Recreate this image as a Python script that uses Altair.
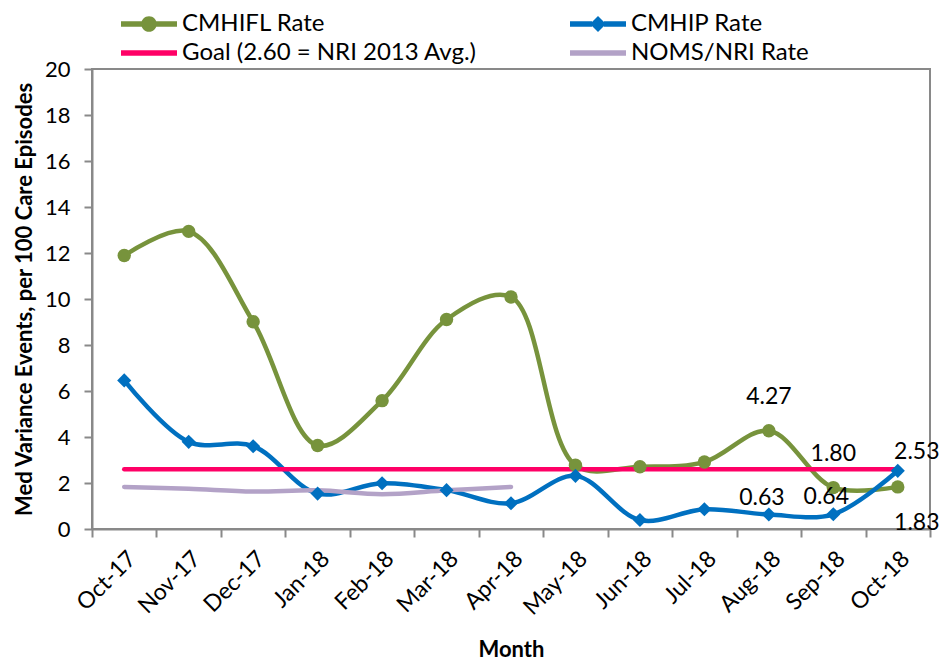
import altair as alt
import pandas as pd
import json

months = ["Oct-17", "Nov-17", "Dec-17", "Jan-18", "Feb-18", "Mar-18", "Apr-18",
          "May-18", "Jun-18", "Jul-18", "Aug-18", "Sep-18", "Oct-18"]
cmhifl = [11.89, 12.94, 9.01, 3.63, 5.58, 9.11, 10.09, 2.77, 2.71, 2.91, 4.27, 1.80, 1.83]
cmhip = [6.46, 3.79, 3.60, 1.54, 1.99, 1.69, 1.12, 2.31, 0.39, 0.86, 0.63, 0.64, 2.53]
goal = [2.60] * 13
noms_months = ["Oct-17", "Nov-17", "Dec-17", "Jan-18", "Feb-18", "Mar-18", "Apr-18"]
noms = [1.83, 1.75, 1.63, 1.68, 1.51, 1.68, 1.83]

series_names = ["CMHIFL Rate", "CMHIP Rate", "Goal (2.60 = NRI 2013 Avg.)", "NOMS/NRI Rate"]
series_colors = ["#77933C", "#0070C0", "#FF0066", "#B3A2C7"]

rows = []
for m, v in zip(months, cmhifl):
    rows.append({"month": m, "series": series_names[0], "value": v})
for m, v in zip(months, cmhip):
    rows.append({"month": m, "series": series_names[1], "value": v})
for m, v in zip(months, goal):
    rows.append({"month": m, "series": series_names[2], "value": v})
for m, v in zip(noms_months, noms):
    rows.append({"month": m, "series": series_names[3], "value": v})
df = pd.DataFrame(rows)

FONT = "Lato"
GRAY = "#898989"

# legend symbol paths: line segment with marker (units of 10 px, symbol size 400)
x0, x1, xm = -1.0, 4.6, 1.8
h = 0.28
rect_full = f"M{x0},-{h}H{x1}V{h}H{x0}Z"
r = 0.78
circ_path = (f"M{x0},-{h}H{xm - r + 0.1:.2f}V{h}H{x0}Z M{xm + r - 0.1:.2f},-{h}H{x1}V{h}H{xm + r - 0.1:.2f}Z "
             f"M{xm - r:.2f},0A{r},{r},0,1,1,{xm + r:.2f},0A{r},{r},0,1,1,{xm - r:.2f},0Z")
d = 0.8
diam_path = (f"M{x0},-{h}H{xm - d + 0.2:.2f}V{h}H{x0}Z M{xm + d - 0.2:.2f},-{h}H{x1}V{h}H{xm + d - 0.2:.2f}Z "
             f"M{xm},-{d}L{xm + d:.2f},0L{xm},{d}L{xm - d:.2f},0Z")

shape_expr = (f"datum.value === '{series_names[0]}' ? '{circ_path}' : "
              f"datum.value === '{series_names[1]}' ? '{diam_path}' : '{rect_full}'")

legend = alt.Legend(
    orient="none", legendX=27, legendY=-57, columns=2, direction="horizontal",
    columnPadding=91, rowPadding=5, title=None,
    labelFont=FONT, labelFontSize=24, labelColor="black", labelLimit=500,
    symbolSize=400, labelOffset=39, symbolStrokeWidth=0,
    symbolType=alt.ExprRef(expr=shape_expr),
)

x_enc = alt.X("month:N", sort=months,
              scale=alt.Scale(type="band", paddingInner=0, paddingOuter=0, domain=months),
              axis=alt.Axis(title="Month", labelAngle=-45, tickBand="extent",
                            labelPadding=10, titlePadding=20, labelFontSize=23))
y_enc = alt.Y("value:Q", scale=alt.Scale(domain=[0, 20], nice=False),
              axis=alt.Axis(title="Med Variance Events, per 100 Care Episodes",
                            values=list(range(0, 21, 2)), grid=False,
                            labelPadding=14, titlePadding=8, labelFontSize=22))

color_scale = alt.Scale(domain=series_names, range=series_colors)
base = alt.Chart(df)


def line_layer(i):
    return base.transform_filter(f"datum.series === '{series_names[i]}'").mark_line(
        interpolate="catmull-rom", strokeWidth=4.5, strokeCap="round", color=series_colors[i]
    ).encode(x=x_enc, y=y_enc)


lines = [line_layer(i) for i in range(4)]

# invisible layer that carries the legend (filled symbols)
legend_host = base.mark_point(filled=True, size=0, opacity=1).encode(
    x="month:N", y="value:Q",
    color=alt.Color("series:N", scale=color_scale, legend=legend))

pts1 = base.transform_filter(f"datum.series === '{series_names[0]}'").mark_point(
    shape="circle", filled=True, size=180, opacity=1, color=series_colors[0]).encode(x="month:N", y="value:Q")
pts2 = base.transform_filter(f"datum.series === '{series_names[1]}'").mark_point(
    shape="diamond", filled=True, size=200, opacity=1, color=series_colors[1]).encode(x="month:N", y="value:Q")


def lbl(series, mlist, dx, dy):
    return base.transform_filter(
        f"datum.series === '{series}' && indexof({json.dumps(mlist)}, datum.month) >= 0"
    ).mark_text(font=FONT, fontSize=23, color="black", dx=dx, dy=dy,
                align="center", baseline="middle").encode(
        x="month:N", y="value:Q", text=alt.Text("value:Q", format=".2f"))


labels = [
    lbl(series_names[0], ["Aug-18", "Sep-18"], 0, -34),
    lbl(series_names[1], ["Aug-18", "Sep-18"], -7, -17),
    lbl(series_names[1], ["Oct-18"], 19, -19),
    lbl(series_names[0], ["Oct-18"], 19, 36),
]

chart = alt.layer(*lines, legend_host, pts1, pts2, *labels).properties(
    width=838, height=460,
    padding={"left": 5, "right": 0, "top": 4, "bottom": 0},
).configure_view(stroke=GRAY, strokeWidth=2).configure_axis(
    domainColor=GRAY, domainWidth=2, tickColor=GRAY, tickWidth=2, tickSize=8,
    labelFont=FONT, labelFontSize=22, labelColor="black",
    titleFont=FONT, titleFontSize=22, titleFontWeight="bold", titleColor="black")

chart.save("out.html", embed_options={"renderer": "svg", "actions": False})
